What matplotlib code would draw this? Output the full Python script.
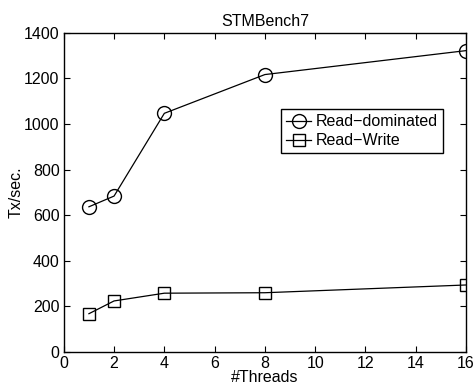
import matplotlib
matplotlib.use('Agg')
import matplotlib.pyplot as plt

plt.rcParams['font.family'] = ['Liberation Sans', 'DejaVu Sans']

# Data
threads = [1, 2, 4, 8, 16]
read_dominated = [637, 684, 1047, 1217, 1322]
read_write = [168, 224, 258, 260, 294]

fs = 11.5

fig = plt.figure(figsize=(4.76, 3.85), dpi=100)
ax = fig.add_axes([0.134, 0.0857, 0.845, 0.829])

ax.plot(threads, read_dominated, 'k-', marker='o', markersize=10,
        markerfacecolor='none', markeredgewidth=1.0, linewidth=0.9,
        label='Read\u2212dominated')
ax.plot(threads, read_write, 'k-', marker='s', markersize=8,
        markerfacecolor='none', markeredgewidth=1.0, linewidth=0.9,
        label='Read\u2212Write')

ax.set_xlim(0, 16)
ax.set_ylim(0, 1400)
ax.set_xticks(range(0, 17, 2))
ax.set_yticks(range(0, 1401, 200))
ax.tick_params(direction='in', top=True, right=True, labelsize=fs, length=4, pad=3)
for s in ax.spines.values():
    s.set_linewidth(1.0)

ax.set_title('STMBench7', fontsize=fs, pad=5)
ax.set_xlabel('#Threads', fontsize=fs, labelpad=-1)
ax.set_ylabel('Tx/sec.', fontsize=fs, labelpad=0)

leg = ax.legend(loc='upper left', bbox_to_anchor=(0.54, 0.76), fontsize=fs,
                fancybox=False, edgecolor='black', framealpha=1,
                borderpad=0.3, labelspacing=0.25, handlelength=1.6,
                handletextpad=0.3, borderaxespad=0)
leg.get_frame().set_linewidth(1.0)

fig.savefig('out.png', dpi=100)
